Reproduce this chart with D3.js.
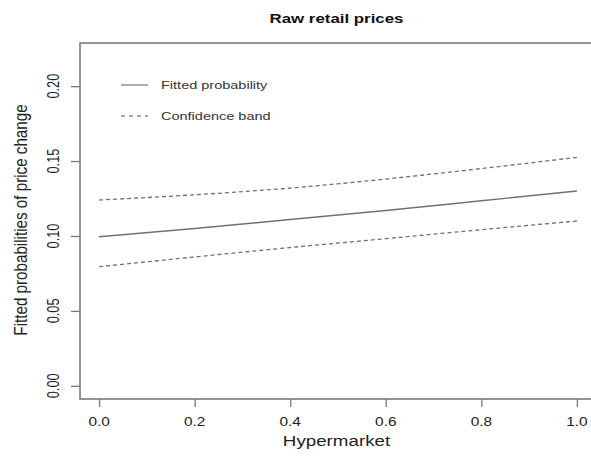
<!DOCTYPE html>
<html>
<head>
<meta charset="utf-8">
<script src="https://cdn.jsdelivr.net/npm/d3@7"></script>
<style>
  html, body { margin: 0; padding: 0; background: #fff; }
  svg { display: block; font-family: "Liberation Sans", Arial, sans-serif; }
</style>
</head>
<body>
<svg id="chart" width="591" height="462"></svg>
<script>
// Share of hypermarket outlets (x) and fitted probabilities of a price change
const hypermarket = [0.0, 0.2, 0.4, 0.6, 0.8, 1.0];
const fitted      = [0.0995, 0.1050, 0.1110, 0.1170, 0.1235, 0.1300];
const upperBand   = [0.1240, 0.1275, 0.1320, 0.1380, 0.1450, 0.1525];
const lowerBand   = [0.0795, 0.0860, 0.0923, 0.0982, 0.1042, 0.1100];

const xTicks = [0.0, 0.2, 0.4, 0.6, 0.8, 1.0];
const yTicks = [0.00, 0.05, 0.10, 0.15, 0.20];

const legendItems = [
  { label: "Fitted probability", dash: null },
  { label: "Confidence band", dash: "4,4" }
];

const svg = d3.select("#chart");

// plot region (R-style 4% padding around the data range)
const plotLeft = 80, plotRight = 596, plotTop = 43, plotBottom = 399;
const x = d3.scaleLinear().domain([-0.04, 1.04]).range([plotLeft, plotRight]);
const y = d3.scaleLinear().domain([-0.0088, 0.2288]).range([plotBottom, plotTop]);

const axisColor = "#7a7a7a";
const textColor = "#222";
const stretch = 1.25;   // the text is set wide, as in the original output device

// horizontally widened text anchored at (cx, cy)
function wideText(parent, cx, cy, str, opts = {}) {
  const rot = opts.rotate ? ` rotate(${opts.rotate})` : "";
  return parent.append("text")
    .attr("transform", `translate(${cx},${cy}) scale(${stretch},1)${rot}`)
    .attr("text-anchor", opts.anchor || "middle")
    .attr("dominant-baseline", opts.baseline || "alphabetic")
    .attr("font-size", opts.size || 12)
    .attr("font-weight", opts.weight || "normal")
    .attr("fill", opts.fill || textColor)
    .text(str);
}

// plot frame
svg.append("rect")
  .attr("x", plotLeft).attr("y", plotTop)
  .attr("width", plotRight - plotLeft).attr("height", plotBottom - plotTop)
  .attr("fill", "none").attr("stroke", axisColor).attr("stroke-width", 1.6);

// x axis ticks, labels drawn separately so they can be widened
const xAxis = svg.append("g")
  .attr("transform", `translate(0,${plotBottom})`)
  .call(d3.axisBottom(x).tickValues(xTicks).tickSize(8).tickFormat(""));
xAxis.select(".domain").remove();
xAxis.selectAll(".tick line").attr("stroke", axisColor).attr("stroke-width", 1.3);
xTicks.forEach(t => wideText(svg, x(t), 426, d3.format(".1f")(t), { size: 12.3 }));

// y axis ticks with rotated labels
const yAxis = svg.append("g")
  .attr("transform", `translate(${plotLeft},0)`)
  .call(d3.axisLeft(y).tickValues(yTicks).tickSize(9).tickFormat(""));
yAxis.select(".domain").remove();
yAxis.selectAll(".tick line").attr("stroke", axisColor).attr("stroke-width", 1.3);
yTicks.forEach(t => wideText(svg, 53, y(t), d3.format(".2f")(t),
  { size: 12.8, rotate: -90, baseline: "central" }));

// curves
const line = d3.line()
  .x((d, i) => x(hypermarket[i]))
  .y(d => y(d))
  .curve(d3.curveMonotoneX);

const lineColor = "#717171";
svg.append("path").datum(upperBand)
  .attr("d", line).attr("fill", "none")
  .attr("stroke", lineColor).attr("stroke-width", 1.3).attr("stroke-dasharray", "4,3");
svg.append("path").datum(lowerBand)
  .attr("d", line).attr("fill", "none")
  .attr("stroke", lineColor).attr("stroke-width", 1.3).attr("stroke-dasharray", "4,3");
svg.append("path").datum(fitted)
  .attr("d", line).attr("fill", "none")
  .attr("stroke", lineColor).attr("stroke-width", 1.4);

// legend
const legend = svg.append("g");
legendItems.forEach((item, i) => {
  const ly = 85 + i * 31;
  legend.append("line")
    .attr("x1", 121).attr("x2", 148).attr("y1", ly).attr("y2", ly)
    .attr("stroke", "#8a8a8a").attr("stroke-width", 1.4)
    .attr("stroke-dasharray", item.dash);
  wideText(legend, 161, ly, item.label,
    { size: 11.6, anchor: "start", baseline: "central", fill: "#333" });
});

// titles
wideText(svg, 336.5, 22.5, "Raw retail prices", { size: 13.5, weight: "bold", fill: "#111" });
wideText(svg, 336.5, 446, "Hypermarket", { size: 15 });
wideText(svg, 20, 220, "Fitted probabilities of price change",
  { size: 15.2, rotate: -90, baseline: "central" });
</script>
</body>
</html>
